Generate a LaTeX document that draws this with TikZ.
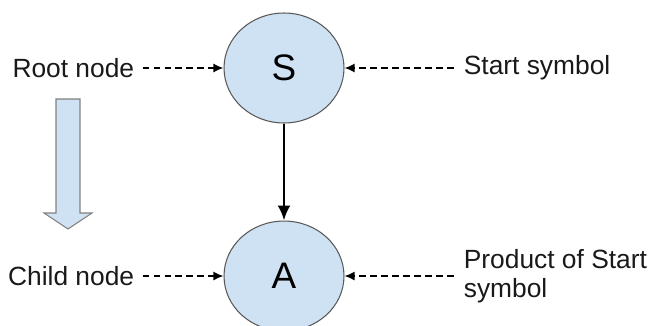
\documentclass[tikz,border=0pt]{standalone}
\usepackage{fontspec}
\setmainfont{Liberation Sans}
\usepackage{tikz}
\usetikzlibrary{positioning, arrows.meta, shapes.geometric}

\definecolor{nodeblue}{HTML}{CFE2F3}
\definecolor{edgegray}{HTML}{595959}

\begin{document}
\begin{tikzpicture}[x=0.02cm, y=-0.02cm]
		% Define styles
		\tikzset{
			sym/.style={ellipse, draw=edgegray, fill=nodeblue, line width=0.6pt, minimum width=2.4cm, minimum height=2.2cm, inner sep=0pt, font=\fontsize{21}{25}\selectfont},
			note/.style={inner sep=0.16cm, font=\fontsize{15}{16.5}\selectfont, text=black!90},
			hint/.style={draw, line width=0.9pt, dash pattern=on 0.13cm off 0.09cm, -{Latex[length=0.2cm, width=0.18cm]}},
			line/.style={draw, line width=1.5pt, -{Latex[length=0.3cm, width=0.26cm]}},
			flow/.style={draw=gray, fill=nodeblue, line width=0.6pt}
		}
		\useasboundingbox (0,0) rectangle (651,325);
		
		% Nodes
		\node[sym] (s) at (284,68) {S};
		\node[sym, below=1.94cm of s] (a) {A};
		
		\node[note, left=1.62cm of s] (root) {Root node};
		\node[note, right=2.18cm of s, inner sep=0.2cm] (start) {Start symbol};
		\node[note, left=1.62cm of a] (child) {Child node};
		\node[note, right=2.18cm of a, inner sep=0.2cm, align=left] (prod) {Product of Start\\symbol};
		
		% Arrows
		\draw[line] (s) -- (a);
		\draw[hint] (root) -- (s);
		\draw[hint] (start) -- (s);
		\draw[hint] (child) -- (a);
		\draw[hint] (prod.west) -- (prod.west -| a.east);
		
		% downward block arrow
		\draw[flow] (56,99) -- (80,99) -- (80,213) -- (92,213) -- (68,229) -- (44,213) -- (56,213) -- cycle;
	\end{tikzpicture}
\end{document}
